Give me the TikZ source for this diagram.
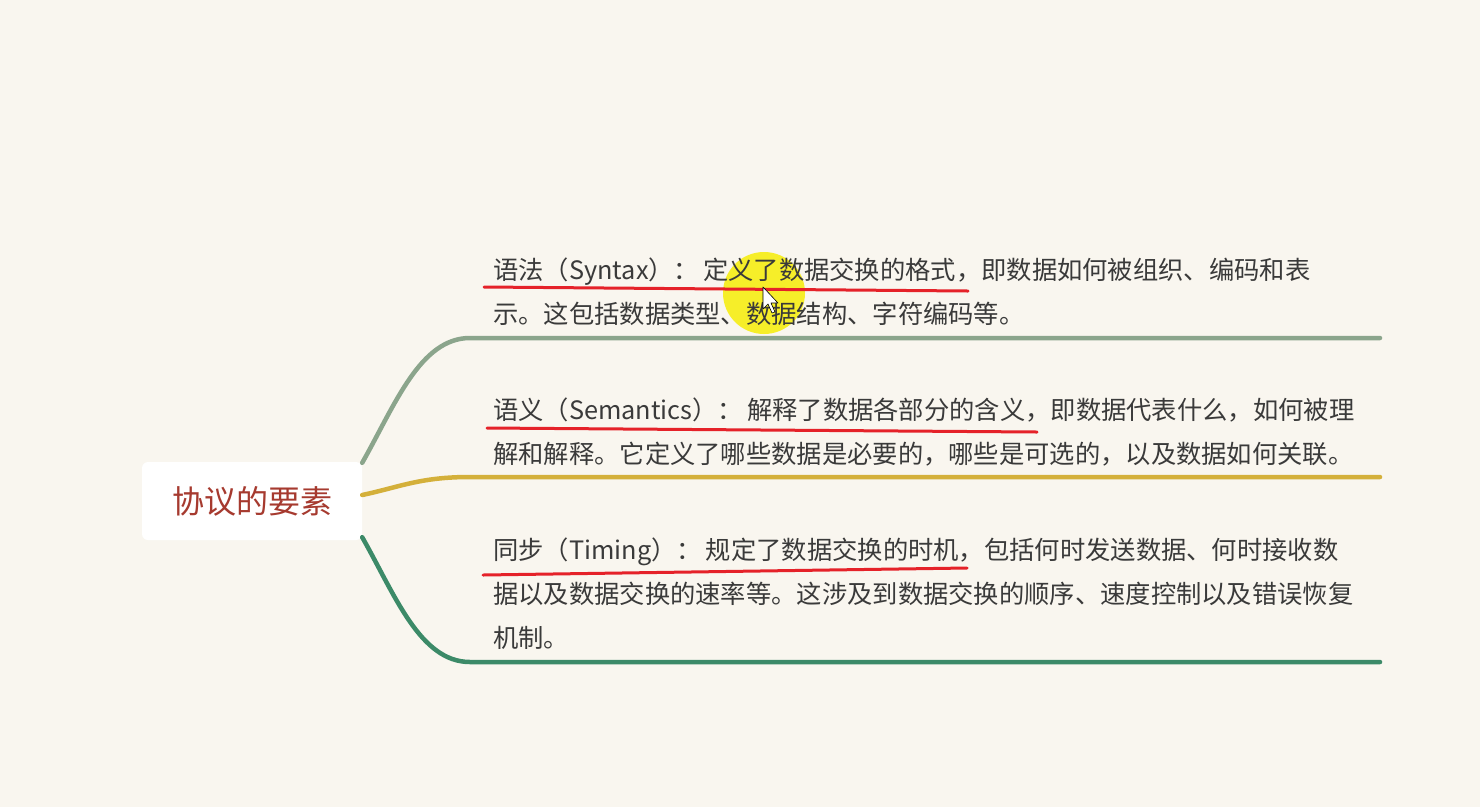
\documentclass[tikz,border=0pt]{standalone}
\usepackage{fontspec}
\setmainfont{Noto Sans CJK SC}
\definecolor{bg}{RGB}{249,246,239}
\definecolor{txt}{RGB}{58,58,58}
\definecolor{ttl}{RGB}{166,58,47}
\definecolor{bone}{RGB}{139,165,140}
\definecolor{btwo}{RGB}{212,176,58}
\definecolor{bthree}{RGB}{60,138,104}
\definecolor{redmk}{RGB}{229,34,41}
\definecolor{hl}{RGB}{246,238,20}
\begin{document}
\begin{tikzpicture}[x=1pt,y=-1pt,
  branch/.style={line width=4.5pt, line cap=round},
  body/.style={anchor=north west, align=left, inner sep=0pt, text=txt, font=\fontsize{25.3}{44}\selectfont},
  redline/.style={draw=redmk, line width=3pt, line cap=round}]
\useasboundingbox (0,0) rectangle (1480,807);
\fill[bg] (0,0) rectangle (1480,807);
% root
\node[fill=white, rounded corners=6pt, minimum width=220pt, minimum height=78pt, inner sep=0pt,
      text=ttl, font=\fontsize{32}{36}\selectfont] (root) at (252,501) {协议的要素};
% branch ends
\coordinate (e1) at (1380,338);
\coordinate (e2) at (1380,477);
\coordinate (e3) at (1380,662);
\draw[branch, bone] ([yshift=-1pt]root.north east) .. controls (395,405) and (420,338) .. (470,338) -- (e1);
\draw[branch, btwo] ([yshift=6pt]root.east) .. controls (400,487) and (420,477) .. (470,477) -- (e2);
\draw[branch, bthree] ([yshift=3pt]root.south east) .. controls (395,595) and (420,662) .. (470,662) -- (e3);
% highlight circle (screen recording)
\fill[hl, opacity=0.9] (764,293) circle (41);
% text blocks
\node[body] (t1) at (493,258) {语法（Syntax）：\hspace{4pt}定义了数据交换的格式，即数据如何被组织、编码和表\\示。这包括数据类型、数据结构、字符编码等。};
\node[body] (t2) at (493,398) {语义（Semantics）：\hspace{4pt}解释了数据各部分的含义，即数据代表什么，如何被理\\解和解释。它定义了哪些数据是必要的，哪些是可选的，以及数据如何关联。};
\node[body] (t3) at (493,538) {同步（Timing）：\hspace{4pt}规定了数据交换的时机，包括何时发送数据、何时接收数\\据以及数据交换的速率等。这涉及到数据交换的顺序、速度控制以及错误恢复\\机制。};
% red underlines
\draw[redline] (484,287) -- (968,291);
\draw[redline] (487,428) -- (1037,432);
\draw[redline] (483,575) -- (967,568);
% mouse cursor
\filldraw[fill=white, draw=black, line width=0.6pt, line join=round]
  (763,287) -- (763,309) -- (768,304) -- (772,313) -- (775,312) -- (771,303) -- (778,303) -- cycle;
\end{tikzpicture}
\end{document}
